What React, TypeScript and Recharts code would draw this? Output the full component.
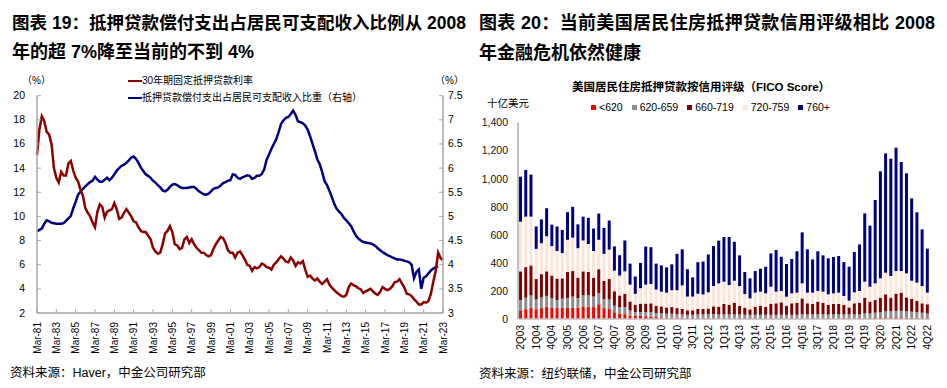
import React from "react";
import { Bar, BarChart, Line, LineChart, XAxis, YAxis } from "recharts";

const FONT = "'Liberation Sans', Arial, 'Noto Sans CJK SC', sans-serif";

// ---- 图表19: quarterly points, Mar-81 .. Mar-23 ----
const lineTickLabels = [
  "Mar-81", "Mar-83", "Mar-85", "Mar-87", "Mar-89", "Mar-91", "Mar-93", "Mar-95",
  "Mar-97", "Mar-99", "Mar-01", "Mar-03", "Mar-05", "Mar-07", "Mar-09", "Mar-11",
  "Mar-13", "Mar-15", "Mar-17", "Mar-19", "Mar-21", "Mar-23",
];

// 30年期固定抵押贷款利率 (%)
const mortgageRate = [
  15.1, 17.2, 18.3, 17.9, 17.0, 16.8, 16.0, 14.0, 13.2, 12.8,
  13.7, 13.4, 13.4, 14.4, 14.6, 13.8, 13.2, 12.9, 12.2, 11.7,
  10.7, 10.3, 10.0, 9.5, 9.1, 10.4, 11.0, 10.8, 9.9, 10.4,
  10.5, 10.6, 11.1, 10.6, 9.8, 9.9, 10.3, 10.6, 10.3, 10.0,
  9.6, 9.5, 9.1, 8.8, 8.7, 8.7, 8.4, 8.1, 7.4, 7.1,
  6.9, 7.0, 7.7, 8.6, 8.8, 9.2, 8.7, 7.7, 7.6, 7.3,
  7.4, 8.1, 8.3, 7.8, 8.1, 7.7, 7.4, 7.2, 7.0, 7.0,
  6.8, 6.7, 6.8, 7.3, 7.7, 8.0, 8.3, 8.2, 7.8, 7.2,
  7.0, 7.0, 6.6, 7.0, 7.1, 6.8, 6.45, 6.0, 5.9, 5.5,
  5.8, 5.7, 5.8, 6.1, 6.0, 5.8, 5.75, 5.6, 6.0, 6.2,
  6.45, 6.7, 6.5, 6.25, 6.2, 6.6, 6.35, 5.9, 6.2, 6.1,
  6.3, 5.6, 5.0, 5.1, 4.85, 4.7, 4.85, 4.6, 4.4, 4.6,
  4.8, 4.35, 4.1, 3.9, 3.7, 3.55, 3.4, 3.35, 3.5, 4.15,
  4.45, 4.3, 4.2, 4.05, 3.95, 3.65, 3.8, 3.9, 4.0, 3.8,
  3.6, 3.5, 3.75, 4.15, 4.0, 3.9, 4.0, 4.2, 4.55, 4.6,
  4.8, 4.45, 4.1, 3.6, 3.55, 3.4, 3.15, 2.95, 2.7, 2.7,
  2.9, 2.85, 3.0, 3.6, 4.6, 5.5, 7.0, 6.55, 6.4,
];

// 抵押贷款偿付支出占居民可支配收入比重 (%, 右轴)
const debtServiceRatio = [
  4.69, 4.72, 4.75, 4.85, 4.92, 4.9, 4.87, 4.86, 4.85, 4.85,
  4.85, 4.86, 4.91, 4.96, 5.01, 5.17, 5.3, 5.45, 5.51, 5.57,
  5.62, 5.67, 5.71, 5.74, 5.82, 5.76, 5.72, 5.72, 5.76, 5.8,
  5.75, 5.8, 5.87, 5.95, 6.0, 6.05, 6.07, 6.11, 6.16, 6.22,
  6.24, 6.19, 6.11, 6.01, 5.94, 5.87, 5.84, 5.8, 5.74, 5.7,
  5.65, 5.6, 5.54, 5.52, 5.55, 5.61, 5.66, 5.67, 5.65, 5.61,
  5.59, 5.59, 5.59, 5.6, 5.61, 5.61, 5.57, 5.52, 5.49, 5.46,
  5.45, 5.47, 5.52, 5.57, 5.59, 5.6, 5.64, 5.69, 5.71, 5.74,
  5.75, 5.87, 5.86, 5.8, 5.78, 5.81, 5.83, 5.85, 5.84, 5.78,
  5.8, 5.84, 5.84, 5.88, 5.97, 6.17, 6.28, 6.4, 6.5, 6.6,
  6.75, 6.92, 6.99, 7.04, 7.06, 7.12, 7.19, 7.1, 6.97, 6.95,
  6.93, 6.88, 6.8, 6.66, 6.5, 6.35, 6.18, 6.08, 5.92, 5.73,
  5.65, 5.53, 5.4, 5.26, 5.16, 5.1, 5.05, 4.97, 4.92, 4.86,
  4.8, 4.69, 4.6, 4.54, 4.5, 4.47, 4.46, 4.45, 4.44, 4.42,
  4.39, 4.34, 4.3, 4.26, 4.23, 4.2, 4.18, 4.15, 4.13, 4.11,
  4.11, 4.1, 4.08, 4.07, 4.05, 4.0, 3.72, 3.85, 3.9, 3.5,
  3.73, 3.76, 3.82, 3.88, 3.92, 3.95, 3.97,
];

const leftTicks = [2, 4, 6, 8, 10, 12, 14, 16, 18, 20];
const rightTicks = [3, 3.5, 4, 4.5, 5, 5.5, 6, 6.5, 7, 7.5];

const lineData = mortgageRate.map((rate, q) => ({
  q,
  rate,
  dsr: q < debtServiceRatio.length ? debtServiceRatio[q] : null,
}));

// ---- 图表20: quarterly 2Q03 .. 4Q22, 十亿美元 ----
const barQuarters: string[] = [];
for (let i = 0; i < 79; i++) {
  const n = 2003 * 4 + 1 + i;
  barQuarters.push(`${(n % 4) + 1}Q${String(Math.floor(n / 4)).slice(2)}`);
}

const below620 = [
  62, 70, 80, 70, 78, 88, 82, 78, 80, 78, 80, 82, 90, 88, 85, 105, 78, 75, 48, 40,
  35, 25, 22, 22, 20, 18, 15, 12, 10, 10, 10, 9, 8, 8, 8, 8, 8, 9, 6, 6,
  6, 6, 6, 6, 6, 6, 6, 6, 6, 6, 6, 6, 6, 6, 6, 6, 6, 6, 6, 6,
  6, 6, 6, 6, 6, 6, 10, 9, 12, 12, 12, 12, 12, 12, 11, 10, 9, 8, 7,
];
const from620to659 = [
  73, 82, 88, 70, 77, 77, 68, 57, 65, 72, 80, 68, 80, 82, 75, 80, 62, 65, 47, 45,
  50, 35, 28, 28, 30, 30, 27, 28, 28, 28, 25, 24, 22, 22, 24, 24, 25, 26, 26, 26,
  26, 26, 26, 24, 24, 24, 24, 24, 24, 24, 24, 24, 24, 24, 27, 26, 26, 26, 26, 26,
  26, 26, 26, 26, 26, 26, 32, 31, 33, 38, 43, 43, 46, 46, 44, 42, 39, 37, 33,
];
const from660to719 = [
  205, 218, 214, 145, 165, 175, 160, 153, 145, 185, 182, 145, 170, 165, 135, 170, 132, 145, 103, 83,
  95, 65, 50, 60, 60, 64, 53, 50, 44, 47, 43, 39, 32, 32, 40, 40, 42, 55, 56, 75,
  68, 84, 61, 51, 39, 58, 65, 58, 79, 82, 89, 65, 82, 86, 114, 80, 75, 92, 84, 68,
  75, 75, 68, 51, 80, 84, 110, 84, 90, 102, 121, 97, 123, 130, 99, 91, 83, 67, 65,
];
const from720to759 = [
  354, 360, 348, 215, 220, 250, 210, 197, 180, 230, 238, 210, 220, 200, 190, 210, 193, 210, 147, 142,
  160, 120, 80, 110, 135, 138, 115, 105, 106, 120, 127, 168, 98, 98, 108, 103, 115, 145, 166, 159,
  142, 157, 142, 97, 78, 100, 100, 95, 121, 83, 81, 64, 71, 72, 107, 76, 81, 76, 79, 76,
  76, 81, 64, 48, 78, 84, 114, 106, 119, 138, 154, 155, 161, 154, 172, 130, 128, 123, 83,
];
const above760 = [
  321, 333, 300, 160, 170, 200, 153, 175, 165, 197, 220, 170, 170, 187, 160, 187, 185, 207, 173, 145,
  220, 150, 123, 180, 272, 262, 185, 187, 180, 185, 260, 257, 195, 137, 225, 235, 270, 285, 305, 319,
  343, 278, 219, 157, 143, 154, 164, 190, 238, 297, 244, 233, 245, 295, 364, 309, 237, 283, 259, 257,
  259, 261, 242, 242, 288, 332, 487, 436, 595, 763, 851, 836, 880, 778, 713, 587, 502, 404, 314,
];
const barTicks = [0, 200, 400, 600, 800, 1000, 1200, 1400];

const barSeries = [
  { key: "b620", name: "<620", color: "#FF0000" },
  { key: "b659", name: "620-659", color: "#8C8C8C" },
  { key: "b719", name: "660-719", color: "#800000" },
  { key: "b759", name: "720-759", color: "#FCE4D6" },
  { key: "b760", name: "760+", color: "#000080" },
];

const barData = barQuarters.map((quarter, i) => ({
  quarter,
  b620: below620[i],
  b659: from620to659[i],
  b719: from660to719[i],
  b759: from720to759[i],
  b760: above760[i],
}));

const AXIS_GRAY = "#a6a6a6";

function LeftYTick(props: any) {
  const { x, y, payload } = props;
  return (
    <g>
      <line x1={x + 12} x2={x + 16} y1={y} y2={y} stroke={AXIS_GRAY} />
      <text x={x} y={y} dy={3.5} textAnchor="end" fontSize={10.5} fill="#000" fontFamily={FONT}>
        {payload.value}
      </text>
    </g>
  );
}

function RightYTick(props: any) {
  const { x, y, payload } = props;
  return (
    <g>
      <line x1={x - 5} x2={x - 9} y1={y} y2={y} stroke={AXIS_GRAY} />
      <text x={x} y={y} dy={3.5} textAnchor="start" fontSize={10.5} fill="#000" fontFamily={FONT}>
        {payload.value}
      </text>
    </g>
  );
}

function DateTick(props: any) {
  const { x, y, payload } = props;
  const label = lineTickLabels[Math.round(payload.value / 8)];
  return (
    <g>
      <line x1={x} x2={x} y1={y - 9} y2={y - 13} stroke={AXIS_GRAY} />
      <text
        x={x}
        y={y}
        dy={3.5}
        textAnchor="end"
        transform={`rotate(-90, ${x}, ${y})`}
        fontSize={10}
        fill="#000"
        fontFamily={FONT}
      >
        {label}
      </text>
    </g>
  );
}

function QuarterTick(props: any) {
  const { x, y, payload } = props;
  return (
    <text
      x={x}
      y={y}
      dy={3.5}
      textAnchor="end"
      transform={`rotate(-90, ${x}, ${y})`}
      fontSize={10}
      fill="#000"
      fontFamily={FONT}
    >
      {payload.value}
    </text>
  );
}

const abs = (left: number, top: number, extra: React.CSSProperties = {}): React.CSSProperties => ({
  position: "absolute",
  left,
  top,
  whiteSpace: "nowrap",
  ...extra,
});

export default function App() {
  return (
    <div
      style={{
        position: "absolute",
        left: 0,
        top: 0,
        width: 947,
        height: 388,
        background: "#fff",
        overflow: "hidden",
        fontFamily: FONT,
        color: "#000",
      }}
    >
      {/* titles */}
      <div style={abs(12, 10, { width: 454, fontSize: 17.5, fontWeight: 700, lineHeight: "26px", textAlignLast: "justify" })}>
        图表 19：抵押贷款偿付支出占居民可支配收入比例从 2008
      </div>
      <div style={abs(12, 39, { fontSize: 18, fontWeight: 700, lineHeight: "26px" })}>
        年的超 7%降至当前的不到 4%
      </div>
      <div style={abs(479, 10, { width: 456, fontSize: 18, fontWeight: 700, lineHeight: "26px", textAlignLast: "justify" })}>
        图表 20：当前美国居民住房抵押贷款信用评级相比 2008
      </div>
      <div style={abs(479, 40, { fontSize: 18, fontWeight: 700, lineHeight: "26px" })}>
        年金融危机依然健康
      </div>

      {/* left chart */}
      <div style={abs(0, 0)}>
        <LineChart width={475} height={388} data={lineData} margin={{ top: 95.7, right: 0, bottom: 30, left: 0 }}>
          <XAxis
            dataKey="q"
            type="number"
            domain={[0, 168]}
            ticks={lineTickLabels.map((_, i) => i * 8)}
            interval={0}
            height={45}
            tickSize={0}
            tickMargin={9}
            tickLine={false}
            axisLine={{ stroke: AXIS_GRAY, strokeWidth: 1.5 }}
            tick={<DateTick />}
          />
          <YAxis
            yAxisId="left"
            domain={[2, 20]}
            ticks={leftTicks}
            interval={0}
            width={37}
            tickSize={0}
            tickMargin={12}
            tickLine={false}
            axisLine={{ stroke: AXIS_GRAY, strokeWidth: 1.5 }}
            tick={<LeftYTick />}
          />
          <YAxis
            yAxisId="right"
            orientation="right"
            domain={[3, 7.5]}
            ticks={rightTicks}
            interval={0}
            width={32}
            tickSize={0}
            tickMargin={5}
            tickLine={false}
            axisLine={{ stroke: AXIS_GRAY, strokeWidth: 1.5 }}
            tick={<RightYTick />}
          />
          <Line
            yAxisId="right"
            dataKey="dsr"
            type="linear"
            stroke="#000080"
            strokeWidth={2.5}
            dot={false}
            connectNulls={false}
            isAnimationActive={false}
          />
          <Line
            yAxisId="left"
            dataKey="rate"
            type="linear"
            stroke="#8B0000"
            strokeWidth={2.5}
            dot={false}
            isAnimationActive={false}
          />
        </LineChart>
      </div>

      {/* left chart legend & units */}
      <div style={abs(22, 74, { fontSize: 10, lineHeight: "14px" })}>（%）</div>
      <div style={abs(435, 74, { fontSize: 10, lineHeight: "14px" })}>（%）</div>
      <div style={abs(128, 74, { fontSize: 10, lineHeight: "14px", display: "flex", alignItems: "center" })}>
        <span style={{ display: "inline-block", width: 14, height: 2.5, background: "#8B0000" }} />
        <span>30年期固定抵押贷款利率</span>
      </div>
      <div style={abs(128, 91, { fontSize: 10, lineHeight: "14px", display: "flex", alignItems: "center" })}>
        <span style={{ display: "inline-block", width: 14, height: 2.5, background: "#000080" }} />
        <span>抵押贷款偿付支出占居民可支配收入比重（右轴）</span>
      </div>

      {/* right chart */}
      <div style={abs(475, 0)}>
        <BarChart
          width={472}
          height={388}
          data={barData}
          margin={{ top: 122.7, right: 17, bottom: 29, left: 0 }}
          barCategoryGap="20%"
        >
          <XAxis
            dataKey="quarter"
            interval={2}
            height={40}
            tickSize={0}
            tickMargin={6}
            tickLine={false}
            axisLine={{ stroke: "#bfbfbf", strokeWidth: 1.5 }}
            tick={<QuarterTick />}
          />
          <YAxis
            domain={[0, 1400]}
            ticks={barTicks}
            interval={0}
            width={43}
            tickSize={0}
            tickMargin={10}
            tickLine={false}
            axisLine={{ stroke: "#bfbfbf", strokeWidth: 2 }}
            tickFormatter={(v: number) => v.toLocaleString("en-US")}
            tick={{ fontSize: 10.5, fill: "#111", fontFamily: FONT }}
          />
          {barSeries.map((s) => (
            <Bar key={s.key} dataKey={s.key} name={s.name} stackId="fico" fill={s.color} isAnimationActive={false} />
          ))}
        </BarChart>
      </div>

      {/* right chart subtitle, unit & legend */}
      <div style={abs(572, 79, { fontSize: 11.5, fontWeight: 700, lineHeight: "16px" })}>
        美国居民住房抵押贷款按信用评级（FICO Score）
      </div>
      <div style={abs(487, 96, { fontSize: 10.5, lineHeight: "14px" })}>十亿美元</div>
      <div style={abs(591, 100, { fontSize: 10.5, lineHeight: "14px", display: "flex", alignItems: "center" })}>
        {barSeries.map((s) => (
          <span key={s.key} style={{ display: "flex", alignItems: "center", marginRight: 9 }}>
            <span style={{ display: "inline-block", width: 5, height: 5, background: s.color, marginRight: 3 }} />
            <span>{s.name}</span>
          </span>
        ))}
      </div>

      {/* sources */}
      <div style={abs(10, 365, { fontSize: 12.5, lineHeight: "16px" })}>资料来源：Haver，中金公司研究部</div>
      <div style={abs(479, 366, { fontSize: 12.5, lineHeight: "16px" })}>资料来源：纽约联储，中金公司研究部</div>
    </div>
  );
}
